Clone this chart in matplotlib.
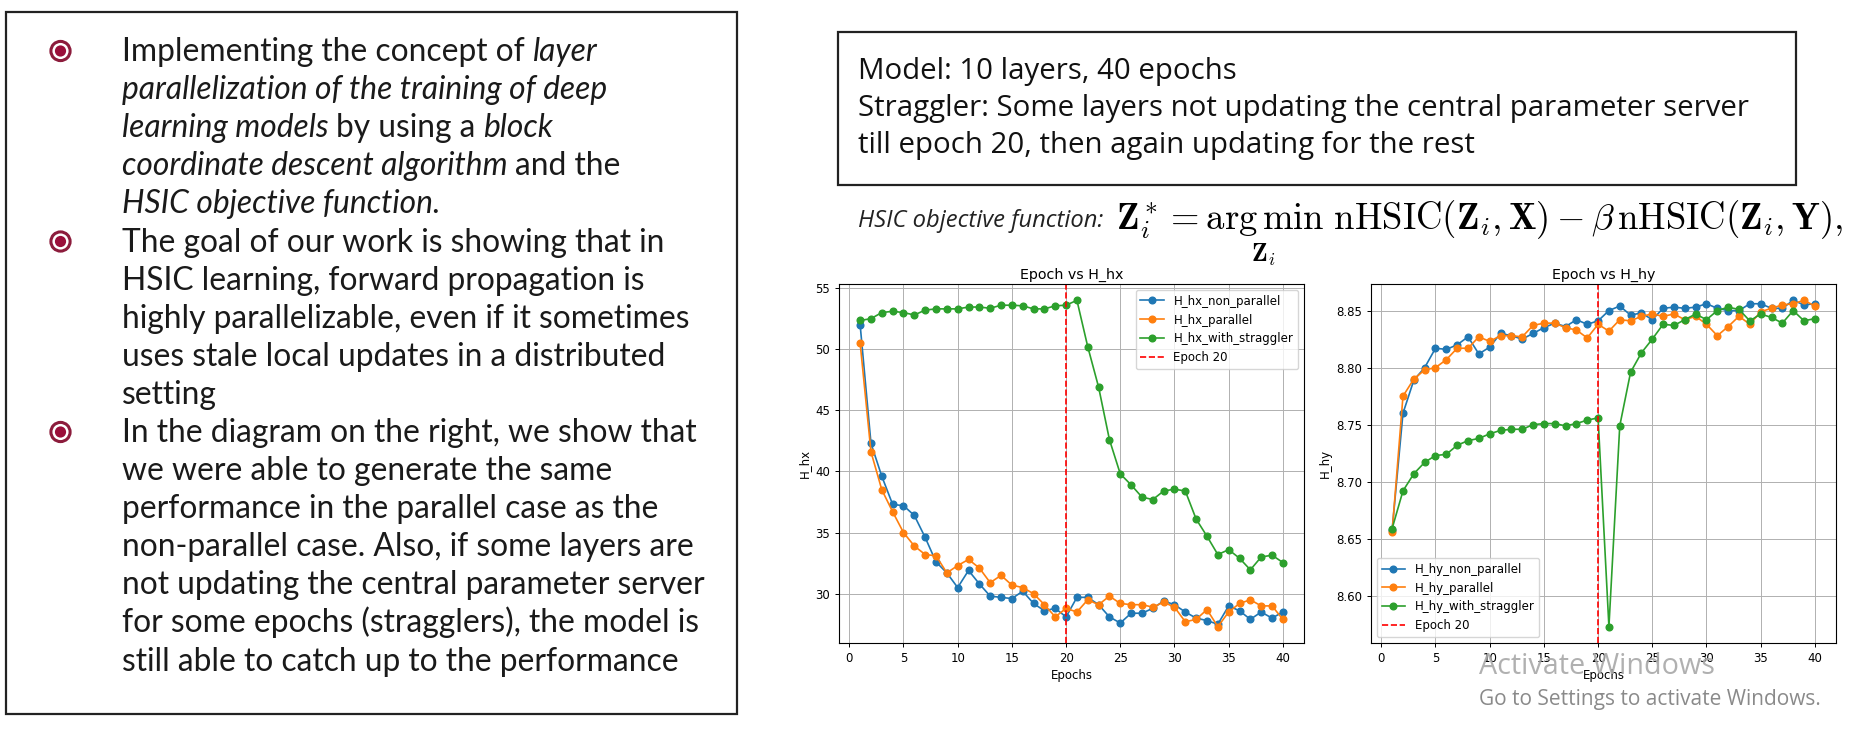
import matplotlib
matplotlib.use('Agg')
import matplotlib.pyplot as plt
from matplotlib.patches import Rectangle, Circle

# ---------------- data ----------------
epochs = list(range(1, 41))

hx_non_parallel = [52.0, 42.3, 39.6, 37.3, 37.2, 36.4, 34.6, 32.6, 31.7, 30.5,
                   31.9, 30.8, 29.8, 29.7, 29.6, 30.2, 29.2, 28.6, 28.8, 28.1,
                   29.7, 29.7, 29.1, 28.1, 27.6, 28.4, 28.4, 28.8, 29.4, 29.1,
                   28.5, 28.0, 27.8, 27.5, 29.0, 28.6, 27.9, 28.5, 28.0, 28.5]
hx_parallel = [50.5, 41.6, 38.5, 36.7, 35.0, 33.9, 33.2, 33.1, 31.7, 32.3,
               32.8, 32.1, 30.9, 31.5, 30.7, 30.5, 30.0, 29.1, 28.1, 28.8,
               28.5, 29.5, 29.1, 29.8, 29.2, 29.1, 29.1, 28.9, 29.3, 28.9,
               27.7, 27.9, 28.7, 27.3, 28.5, 29.2, 29.5, 29.0, 29.0, 27.9]
hx_with_straggler = [52.35, 52.5, 53.0, 53.1, 53.0, 52.8, 53.2, 53.3, 53.3, 53.3,
                     53.45, 53.45, 53.35, 53.6, 53.6, 53.55, 53.3, 53.3, 53.55, 53.6,
                     54.0, 50.2, 46.9, 42.6, 39.8, 38.9, 37.9, 37.7, 38.4, 38.55,
                     38.4, 36.1, 34.7, 33.2, 33.6, 32.9, 31.95, 33.0, 33.15, 32.55]

hy_non_parallel = [8.658, 8.760, 8.789, 8.800, 8.817, 8.816, 8.820, 8.827, 8.812, 8.818,
                   8.830, 8.828, 8.825, 8.830, 8.835, 8.839, 8.836, 8.842, 8.838, 8.841,
                   8.850, 8.854, 8.846, 8.848, 8.842, 8.852, 8.853, 8.852, 8.853, 8.856,
                   8.852, 8.850, 8.850, 8.856, 8.856, 8.852, 8.852, 8.859, 8.855, 8.856]
hy_parallel = [8.656, 8.775, 8.790, 8.798, 8.800, 8.807, 8.817, 8.817, 8.827, 8.823,
               8.828, 8.828, 8.827, 8.837, 8.839, 8.839, 8.835, 8.833, 8.826, 8.838,
               8.832, 8.842, 8.841, 8.845, 8.847, 8.845, 8.847, 8.842, 8.845, 8.838,
               8.828, 8.836, 8.845, 8.838, 8.849, 8.852, 8.855, 8.856, 8.859, 8.854]
hy_with_straggler = [8.659, 8.692, 8.707, 8.717, 8.723, 8.724, 8.732, 8.736, 8.738, 8.742,
                     8.745, 8.746, 8.746, 8.750, 8.751, 8.751, 8.749, 8.751, 8.754, 8.756,
                     8.573, 8.749, 8.796, 8.813, 8.825, 8.838, 8.837, 8.842, 8.847, 8.842,
                     8.850, 8.853, 8.851, 8.841, 8.847, 8.844, 8.839, 8.850, 8.841, 8.843]
straggler_epoch = 20

bullet_lines = [
    [("Implementing the concept of", "normal"), ("layer", "italic")],
    [("parallelization of the training of deep", "italic")],
    [("learning models", "italic"), ("by using a", "normal"), ("block", "italic")],
    [("coordinate descent algorithm", "italic"), ("and the", "normal")],
    [("HSIC objective function.", "italic")],
    [("The goal of our work is showing that in", "normal")],
    [("HSIC learning, forward propagation is", "normal")],
    [("highly parallelizable, even if it sometimes", "normal")],
    [("uses stale local updates in a distributed", "normal")],
    [("setting", "normal")],
    [("In the diagram on the right, we show that", "normal")],
    [("we were able to generate the same", "normal")],
    [("performance in the parallel case as the", "normal")],
    [("non-parallel case. Also, if some layers are", "normal")],
    [("not updating the central parameter server", "normal")],
    [("for some epochs (stragglers), the model is", "normal")],
    [("still able to catch up to the performance", "normal")],
]
bullet_starts = [0, 5, 10]

box_lines = ["Model: 10 layers, 40 epochs",
             "Straggler: Some layers not updating the central parameter server",
             "till epoch 20, then again updating for the rest"]

# ---------------- figure ----------------
W, H = 1850, 732
plt.rcParams['mathtext.fontset'] = 'cm'
fig = plt.figure(figsize=(W / 100, H / 100), dpi=100)
fig.patch.set_facecolor('white')
renderer = fig.canvas.get_renderer()

ov = fig.add_axes([0, 0, 1, 1])
ov.set_xlim(0, W)
ov.set_ylim(H, 0)
ov.axis('off')


def text_w(s, size, family, style='normal'):
    t = ov.text(0, 0, s, fontsize=size, family=family, style=style)
    w = t.get_window_extent(renderer).width
    t.remove()
    return w


def fit(s, target, family, style='normal'):
    return 20 * target / text_w(s, 20, family, style)


# ---- left box ----
ov.add_patch(Rectangle((6, 12), 731, 702, fill=False, ec='#222222', lw=1.6))
LFONT = 'Lato'
lsize = fit("non-parallel case. Also, if some layers are", 572, LFONT)
space_w = {st: text_w("a a", lsize, LFONT, st) - text_w("aa", lsize, LFONT, st)
           for st in ("normal", "italic")}
for i, segs in enumerate(bullet_lines):
    yc = 52 + 38.1 * i
    x = 122
    for txt, st in segs:
        t = ov.text(x, yc + 9, txt, fontsize=lsize, family=LFONT, style=st,
                    va='baseline', ha='left', color='#1a1a1a')
        x += t.get_window_extent(renderer).width + space_w[st]
for i in bullet_starts:
    yc = 51 + 38.1 * i
    ov.add_patch(Circle((60.5, yc), 9.6, fc='white', ec='#8c1c3c', lw=2.2))
    ov.add_patch(Circle((60.5, yc), 5.6, fc='#9a0f3a', ec='none'))

# ---- top-right box ----
ov.add_patch(Rectangle((838, 32), 958, 153, fill=False, ec='#222222', lw=1.6))
BFONT = 'Open Sans'
bsize = fit(box_lines[1], 888, BFONT)
for i, s in enumerate(box_lines):
    ov.text(858, 71 + 37.5 * i, s, fontsize=bsize, family=BFONT,
            va='center', ha='left', color='#111111')

# ---- HSIC objective ----
hsize = fit("HSIC objective function:", 245, BFONT, 'italic')
ov.text(858, 227, "HSIC objective function:", fontsize=hsize, family=BFONT,
        style='italic', va='baseline', ha='left', color='#222222')
formula = (r"$\mathbf{Z}_i^* = \underset{\mathbf{Z}_i}{\mathrm{arg\,min}}\ "
           r"\mathrm{nHSIC}(\mathbf{Z}_i, \mathbf{X}) - \beta\,"
           r"\mathrm{nHSIC}(\mathbf{Z}_i, \mathbf{Y}),$")
fsize = fit(formula, 728, 'DejaVu Sans')
ov.text(1116, 230, formula, fontsize=fsize, va='baseline', ha='left', color='black')

# ---------------- charts ----------------
CS = 8.5
lw, ms = 1.2, 4.8
ax1 = fig.add_axes([839 / W, (H - 643) / H, 465 / W, 359 / H])
ax1.plot(epochs, hx_non_parallel, 'o-', lw=lw, ms=ms, label='H_hx_non_parallel')
ax1.plot(epochs, hx_parallel, 'o-', lw=lw, ms=ms, label='H_hx_parallel')
ax1.plot(epochs, hx_with_straggler, 'o-', lw=lw, ms=ms, label='H_hx_with_straggler')
ax1.axvline(straggler_epoch, color='red', ls='--', lw=lw, label='Epoch 20')
ax1.set_title('Epoch vs H_hx', fontsize=10.3, pad=4)
ax1.set_xlabel('Epochs', fontsize=CS, labelpad=3)
ax1.set_ylabel('H_hx', fontsize=CS, labelpad=3)
ax1.grid(True, lw=0.7)
ax1.tick_params(labelsize=CS, length=2.8, width=0.7)
ax1.legend(loc='upper right', fontsize=CS)

ax2 = fig.add_axes([1371 / W, (H - 643) / H, 465 / W, 359 / H])
ax2.plot(epochs, hy_non_parallel, 'o-', lw=lw, ms=ms, label='H_hy_non_parallel')
ax2.plot(epochs, hy_parallel, 'o-', lw=lw, ms=ms, label='H_hy_parallel')
ax2.plot(epochs, hy_with_straggler, 'o-', lw=lw, ms=ms, label='H_hy_with_straggler')
ax2.axvline(straggler_epoch, color='red', ls='--', lw=lw, label='Epoch 20')
ax2.set_title('Epoch vs H_hy', fontsize=10.3, pad=4)
ax2.set_xlabel('Epochs', fontsize=CS, labelpad=3)
ax2.set_ylabel('H_hy', fontsize=CS, labelpad=3)
ax2.grid(True, lw=0.7)
ax2.tick_params(labelsize=CS, length=2.8, width=0.7)
ax2.legend(loc='lower left', fontsize=CS)

for ax in (ax1, ax2):
    for sp in ax.spines.values():
        sp.set_linewidth(0.8)

# ---------------- watermark ----------------
asize = fit("Activate Windows", 235, BFONT)
gsize = fit("Go to Settings to activate Windows.", 342, BFONT)
fig.text(1479 / W, 1 - 667 / H, "Activate Windows", fontsize=asize, family=BFONT,
         color='#a8a8a8', alpha=0.9, va='center', ha='left', zorder=10)
fig.text(1479 / W, 1 - 700 / H, "Go to Settings to activate Windows.", fontsize=gsize,
         family=BFONT, color='#8a8a8a', va='center', ha='left', zorder=10)

fig.savefig('out.png', dpi=100, facecolor='white')
